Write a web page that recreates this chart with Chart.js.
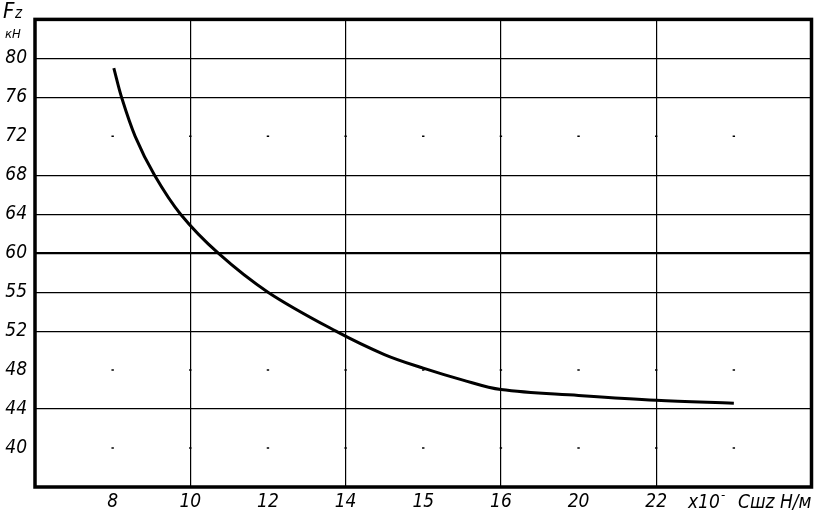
<!DOCTYPE html>
<html>
<head>
<meta charset="utf-8">
<script src="https://cdn.jsdelivr.net/npm/chart.js@4"></script>
<style>
  html, body { margin: 0; padding: 0; background: #fff; }
  #wrap { width: 817px; height: 512px; }
</style>
</head>
<body>
<div id="wrap"><canvas id="chart" width="817" height="512"></canvas></div>
<script>
// ── Data ──────────────────────────────────────────────────────────────────────
const stiffness = [8.03, 8.23, 8.58, 9.08, 9.75, 10.72, 12, 13.75, 15, 16, 17, 18, 20, 22, 24];
const forceFz   = [79.0, 76.0, 72.0, 68.0, 64.0, 60.0, 56.0, 52.0, 49.6, 48.2, 47.0, 46.0, 45.4, 44.9, 44.6];

const xTicks     = [8, 10, 12, 14, 16, 18, 20, 22];
const xTickText  = ['8', '10', '12', '14', '15', '16', '20', '22'];
const xGridSolid = [10, 14, 18, 22];

const yTicks     = [40, 44, 48, 52, 56, 60, 64, 68, 72, 76, 80];
const yTickText  = ['40', '44', '48', '52', '55', '60', '64', '68', '72', '76', '80'];
const yGridSolid = [44, 52, 56, 60, 64, 68, 76, 80];
const yGridBold  = [60];

const dotRows = [40, 48, 72];
const dotCols = [8, 10, 12, 14, 16, 18, 20, 22, 24];

// ── Helpers ───────────────────────────────────────────────────────────────────
const FONT = "'DejaVu Sans Condensed', 'Liberation Sans Narrow', sans-serif";
const curve = stiffness.map((x, i) => ({ x, y: forceFz[i] }));
const dots = [];
dotRows.forEach(y => dotCols.forEach(x => dots.push({ x, y })));

const frameAndLabels = {
  id: 'frameAndLabels',
  afterDatasetsDraw(chart) {
    const { ctx, chartArea: a } = chart;
    ctx.save();
    ctx.strokeStyle = '#000';
    ctx.lineWidth = 3.5;
    ctx.strokeRect(a.left, a.top, a.right - a.left, a.bottom - a.top);

    ctx.fillStyle = '#000';
    ctx.textBaseline = 'alphabetic';
    ctx.font = 'italic 22px ' + FONT;
    ctx.fillText('F', 3, 18);
    ctx.font = 'italic 15px ' + FONT;
    ctx.fillText('z', 15, 18);
    ctx.font = 'italic 13px ' + FONT;
    ctx.fillText('кН', 5, 38);

    ctx.font = 'italic 19px ' + FONT;
    ctx.fillText('x10', 688, 508);
    ctx.font = 'italic 13px ' + FONT;
    ctx.fillText('-', 721, 499);
    ctx.font = 'italic 19px ' + FONT;
    ctx.fillText('Сшz Н/м', 738, 508);
    ctx.restore();
  }
};

// ── Chart ─────────────────────────────────────────────────────────────────────
new Chart(document.getElementById('chart'), {
  type: 'scatter',
  data: {
    datasets: [
      {
        data: curve, showLine: true,
        borderColor: '#000', borderWidth: 3,
        tension: 0.35,
        pointRadius: 0
      },
      {
        data: dots, showLine: false,
        pointStyle: 'line', pointRadius: 1.2,
        borderColor: '#000', borderWidth: 1.5
      }
    ]
  },
  options: {
    responsive: false,
    animation: false,
    layout: { padding: { top: 18, right: 4 } },
    plugins: { legend: { display: false }, tooltip: { enabled: false } },
    scales: {
      x: {
        type: 'linear', min: 6, max: 26,
        afterFit: s => { s.height = 25; },
        border: { display: false },
        grid: {
          drawTicks: false,
          color: c => xGridSolid.includes(c.tick.value) ? '#000' : 'rgba(0,0,0,0)',
          lineWidth: 1.2
        },
        ticks: {
          stepSize: 2, padding: 4, color: '#000',
          maxRotation: 0, autoSkip: false,
          font: { family: FONT, size: 19, style: 'italic' },
          callback: v => { const i = xTicks.indexOf(v); return i < 0 ? '' : xTickText[i]; }
        }
      },
      y: {
        type: 'linear', min: 36, max: 84,
        afterFit: s => { s.width = 35; },
        border: { display: false },
        grid: {
          drawTicks: false,
          color: c => yGridSolid.includes(c.tick.value) ? '#000' : 'rgba(0,0,0,0)',
          lineWidth: c => yGridBold.includes(c.tick.value) ? 2.2 : 1.2
        },
        ticks: {
          stepSize: 4, padding: 8, color: '#000',
          autoSkip: false,
          font: { family: FONT, size: 19, style: 'italic' },
          callback: v => { const i = yTicks.indexOf(v); return i < 0 ? '' : yTickText[i]; }
        }
      }
    }
  },
  plugins: [frameAndLabels]
});
</script>
</body>
</html>
